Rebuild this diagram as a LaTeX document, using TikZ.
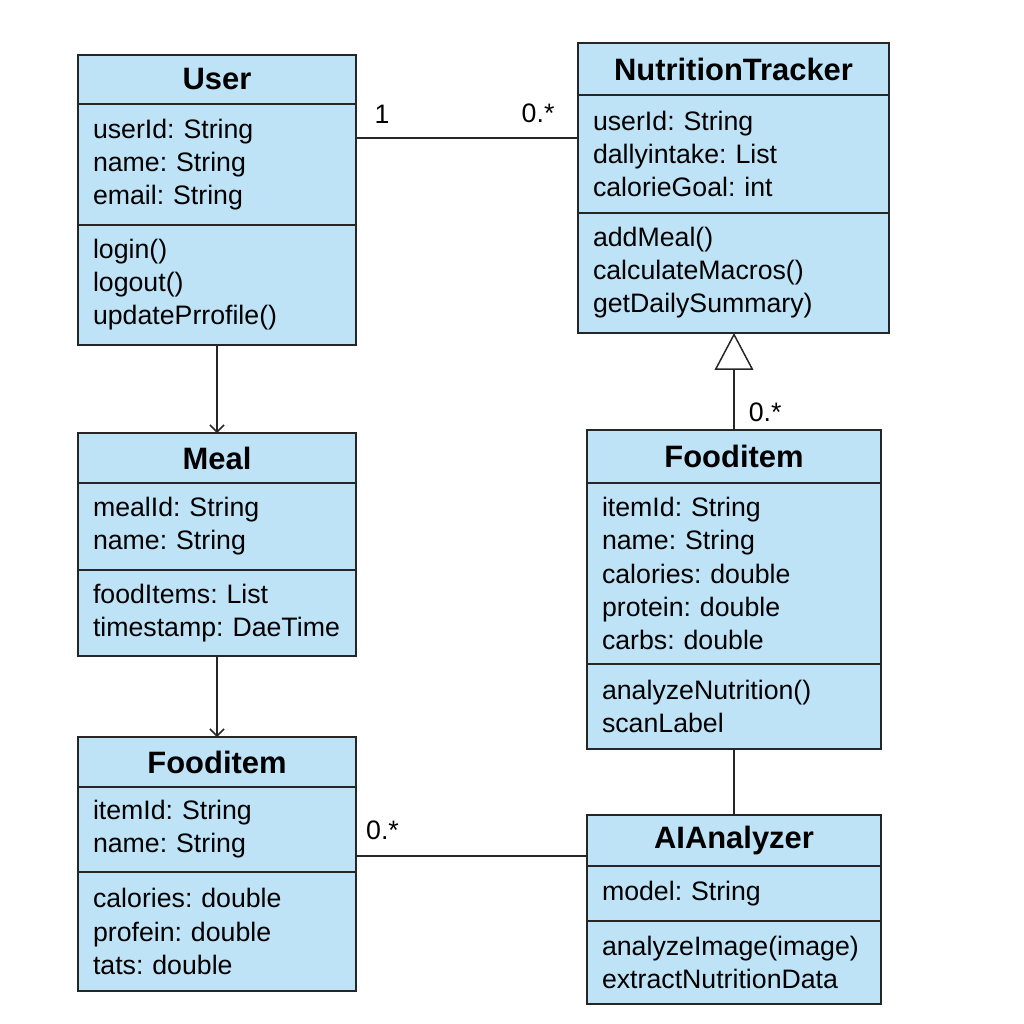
\documentclass[tikz,border=0pt]{standalone}
\usepackage{fontspec}
\setmainfont{Liberation Sans}
\usetikzlibrary{positioning,calc,arrows.meta}
\definecolor{boxblue}{RGB}{191,227,246}
\frenchspacing

\begin{document}
\begin{tikzpicture}[x=0.02cm,y=-0.02cm,line width=0.85pt,draw=black!85,
  sec/.style={draw=black!85,fill=boxblue,line width=1.1pt,outer sep=0pt,inner xsep=0.3cm,inner ysep=0pt,align=left,font=\fontsize{15.2}{18.8}\selectfont},
  classname/.style={sec,align=center,font=\fontsize{17.6}{20}\selectfont\bfseries},
  lbl/.style={inner sep=2pt,font=\fontsize{15.2}{18}\selectfont},
  >={Straight Barb[length=4pt,width=8pt]}]
\useasboundingbox (0,0) rectangle (1024,1024);

\node[classname,text width=4.96cm,minimum height=0.98cm,anchor=north] (U) at (217,55) {User};
\node[sec,text width=4.96cm,minimum height=2.42cm,below=0pt of U] (Ua) {userId: String\\name: String\\email: String};
\node[sec,text width=4.96cm,minimum height=2.4cm,below=0pt of Ua] (Um) {login()\\logout()\\updatePrrofile()};

\node[classname,text width=5.62cm,minimum height=1.04cm,anchor=north] (N) at (733.5,43) {NutritionTracker};
\node[sec,text width=5.62cm,minimum height=2.36cm,below=0pt of N] (Na) {userId: String\\dallyintake: List\\calorieGoal: int};
\node[sec,text width=5.62cm,minimum height=2.4cm,below=0pt of Na] (Nm) {addMeal()\\calculateMacros()\\getDailySummary)};

\node[classname,text width=4.96cm,minimum height=1.0cm,anchor=north] (M) at (217,433) {Meal};
\node[sec,text width=4.96cm,minimum height=1.74cm,below=0pt of M] (Ma) {mealId: String\\name: String};
\node[sec,text width=4.96cm,minimum height=1.72cm,below=0pt of Ma] (Mm) {foodItems: List\\timestamp: DaeTime};

\node[classname,text width=4.96cm,minimum height=1.0cm,anchor=north] (F) at (217,737) {Fooditem};
\node[sec,text width=4.96cm,minimum height=1.7cm,below=0pt of F] (Fa) {itemId: String\\name: String};
\node[sec,text width=4.96cm,minimum height=2.38cm,below=0pt of Fa] (Fm) {calories: double\\profein: double\\tats: double};

\node[classname,text width=5.28cm,minimum height=1.06cm,anchor=north] (G) at (734,430) {Fooditem};
\node[sec,text width=5.28cm,minimum height=3.62cm,below=0pt of G] (Ga) {itemId: String\\name: String\\calories: double\\protein: double\\carbs: double};
\node[sec,text width=5.28cm,minimum height=1.7cm,below=0pt of Ga] (Gm) {analyzeNutrition()\\scanLabel};

\node[classname,text width=5.28cm,minimum height=1.02cm,anchor=north] (AI) at (734,815) {AIAnalyzer};
\node[sec,text width=5.28cm,minimum height=1.1cm,below=0pt of AI] (AIa) {model: String};
\node[sec,text width=5.28cm,minimum height=1.66cm,below=0pt of AIa] (AIm) {analyzeImage(image)\\extractNutritionData};

\coordinate (l1) at ($(Ua.north east)+(0,34)$);
\coordinate (l2) at ($(AI.south west)+(0,-10)$);

\draw (l1) -- node[lbl,pos=0.117,above=6pt] {1} node[lbl,pos=0.82,above=6pt] {0.*} (l1 -| Na.west);
\draw[->] (Um) -- (M);
\draw[->] (Mm) -- (F);
\draw[-{Triangle[open,length=21pt,width=22pt]}] (G) -- node[lbl,pos=0.186,right=6pt] {0.*} (G.north |- Nm.south);
\draw (Gm) -- (AI);
\draw (l2) -- node[lbl,pos=0.885,above=7pt] {0.*} (l2 -| Fa.east);
\end{tikzpicture}
\end{document}
